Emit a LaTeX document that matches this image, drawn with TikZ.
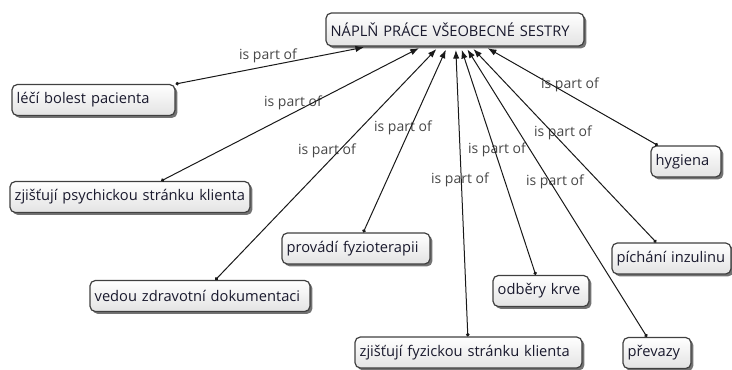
\documentclass[tikz,border=0pt]{standalone}
\usepackage{fontspec}
\setmainfont{Open Sans}
\usetikzlibrary{arrows.meta,shadows}
\begin{document}
\begin{tikzpicture}[x=0.75pt,y=-0.75pt,
  concept/.style={draw=black!75, line width=0.9pt, rounded corners=4pt,
    top color=white, bottom color=black!11,
    drop shadow={shadow xshift=1.8pt, shadow yshift=-1.8pt, opacity=0.55, fill=black},
    minimum height=23.25pt, inner xsep=3.5pt, inner ysep=0pt,
    font=\fontsize{11}{13}\selectfont, text={rgb,255:red,25;green,25;blue,45},
    align=left, text width=#1},
  linklabel/.style={font=\fontsize{10.5}{12}\selectfont, text=black!72, inner sep=0pt},
  conn/.style={line width=0.75pt, draw=black!90,
    arrows={Circle[length=2.6pt]-Latex[length=6.5pt,width=4.8pt]}, shorten >=2.5pt}]
\useasboundingbox (0,0) rectangle (732,369);

% concepts
\node[concept=186.5pt, minimum height=24.75pt] (top) at (455,29.5) {NÁPLŇ PRÁCE VŠEOBECNÉ SESTRY};
\node[concept=115.25pt] (leci)    at (93.5,100)   {léčí bolest pacienta};
\node[concept=173pt]    (psych)   at (130,197)    {zjišťují psychickou stránku klienta};
\node[concept=158pt]    (vedou)   at (200,296)    {vedou zdravotní dokumentaci};
\node[concept=104pt]    (provadi) at (356,248.5)  {provádí fyzioterapii};
\node[concept=65pt]     (odbery)  at (541,291)    {odběry krve};
\node[concept=163.25pt] (fyz)     at (468.5,352.5){zjišťují fyzickou stránku klienta};
\node[concept=44pt]     (prevazy) at (657,353)    {převazy};
\node[concept=82.25pt]  (pichani) at (671.5,258.5){píchání inzulinu};
\node[concept=45.5pt]   (hygiena) at (686,161.5)  {hygiena};

% linking phrases
\node[linklabel] (l1) at (268,56)  {is part of};
\node[linklabel] (l2) at (293,103) {is part of};
\node[linklabel] (l3) at (403,128) {is part of};
\node[linklabel] (l4) at (327,151) {is part of};
\node[linklabel] (l5) at (570,85)  {is part of};
\node[linklabel] (l6) at (563,133) {is part of};
\node[linklabel] (l7) at (497,150) {is part of};
\node[linklabel] (l8) at (460,180) {is part of};
\node[linklabel] (l9) at (555,182) {is part of};

% connectors
\foreach \src in {leci,psych,vedou,provadi,fyz,odbery,prevazy,pichani,hygiena}
  \draw[conn] (\src) -- (top);
\end{tikzpicture}
\end{document}
